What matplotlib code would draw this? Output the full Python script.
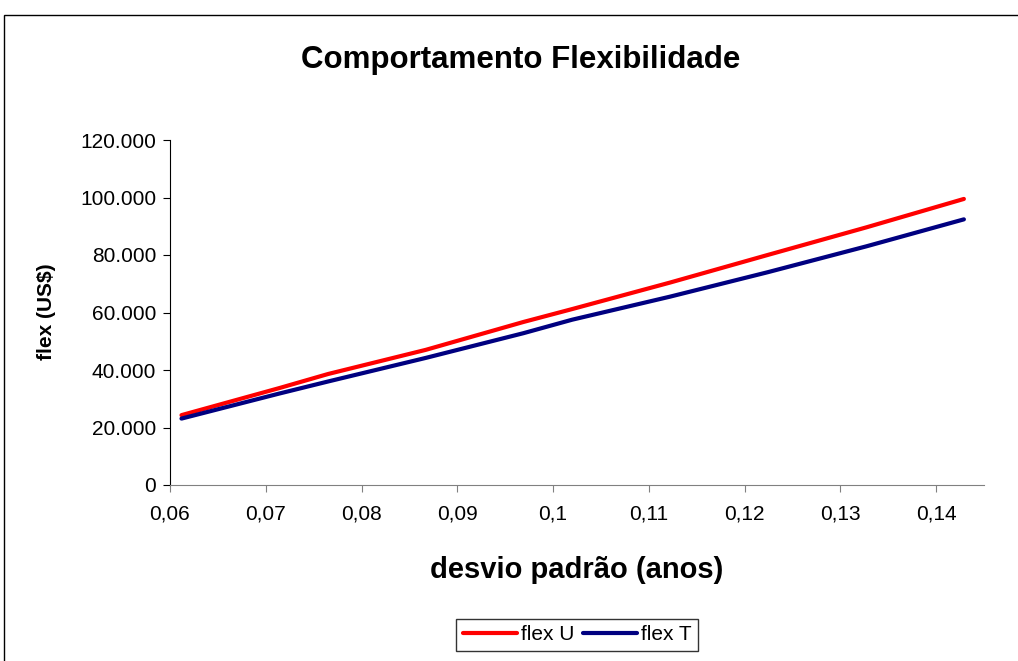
import matplotlib
matplotlib.use("Agg")
import matplotlib.pyplot as plt
from matplotlib.patches import Rectangle
from matplotlib.ticker import FuncFormatter

plt.rcParams["font.family"] = ["Liberation Sans", "DejaVu Sans"]

# data
desvio = [0.0612, 0.0714, 0.0765, 0.0867, 0.0969, 0.102, 0.1122, 0.1224, 0.1327, 0.1429]
flex_u = [24300, 33700, 38600, 47000, 56700, 61200, 70400, 80000, 89600, 99500]
flex_t = [23100, 31800, 36000, 44200, 52800, 57500, 65500, 74000, 83000, 92400]
x_ticks = [0.06, 0.07, 0.08, 0.09, 0.10, 0.11, 0.12, 0.13, 0.14]
y_ticks = [0, 20000, 40000, 60000, 80000, 100000, 120000]

W, H = 1018, 661
fig = plt.figure(figsize=(W / 100, H / 100), dpi=100)

# outer chart border (cut off at right and bottom like the source)
fig.patches.append(Rectangle((4 / W, -0.1), 1.2, (H - 15) / H + 0.1,
                             transform=fig.transFigure, fill=False,
                             edgecolor="black", linewidth=1.0))

ax = fig.add_axes([170 / W, 1 - 485 / H, 814 / W, 345 / H])

ax.plot(desvio, flex_u, color="#FF0000", linewidth=3, label="flex U",
        solid_capstyle="round")
ax.plot(desvio, flex_t, color="#000080", linewidth=3, label="flex T",
        solid_capstyle="round")

ax.set_xlim(0.06, 0.145)
ax.set_ylim(0, 120000)
ax.set_xticks(x_ticks)
ax.set_yticks(y_ticks)
ax.xaxis.set_major_formatter(FuncFormatter(lambda v, p: f"{v:g}".replace(".", ",")))
ax.yaxis.set_major_formatter(FuncFormatter(lambda v, p: f"{int(v):,}".replace(",", ".")))

for s in ["top", "right"]:
    ax.spines[s].set_visible(False)
ax.spines["left"].set_color("black")
ax.spines["bottom"].set_color("#808080")
ax.tick_params(axis="both", direction="out", length=5, labelsize=15, pad=5)
ax.tick_params(axis="x", color="#808080", pad=9)

# axis titles and chart title
fig.text(577 / W, 1 - 570 / H, "desvio padrão (anos)", ha="center", va="center",
         fontsize=21, fontweight="bold")
fig.text(47 / W, 1 - 312 / H, "flex (US$)", ha="center", va="center",
         rotation=90, fontsize=15, fontweight="bold")
fig.text(521 / W, 1 - 60 / H, "Comportamento Flexibilidade",
         ha="center", va="center", fontsize=22.5, fontweight="bold")

leg = fig.legend(loc="upper center", bbox_to_anchor=(577 / W, 1 - 619 / H),
                 ncol=2, fontsize=15, frameon=True, fancybox=False,
                 edgecolor="black", handlelength=2.6, handletextpad=0.2,
                 columnspacing=0.4, borderpad=0.3, borderaxespad=0)
leg.get_frame().set_linewidth(1.0)

fig.savefig("out.png", dpi=100)
